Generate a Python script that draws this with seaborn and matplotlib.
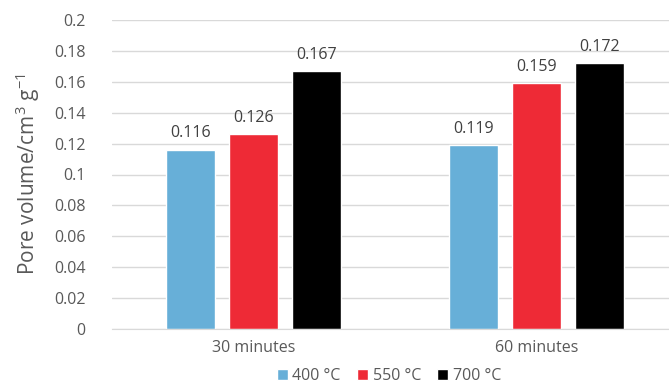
import pandas as pd
import matplotlib
matplotlib.use("Agg")
import matplotlib.pyplot as plt
import seaborn as sns

# data
times = ['30 minutes', '60 minutes']
temps = ['400 °C', '550 °C', '700 °C']
vol_400 = [0.116, 0.119]
vol_550 = [0.126, 0.159]
vol_700 = [0.167, 0.172]
colors = ['#67afd8', '#ee2a36', '#000000']

df = pd.DataFrame({
    'time': times * 3,
    'temp': [temps[0]] * 2 + [temps[1]] * 2 + [temps[2]] * 2,
    'volume': vol_400 + vol_550 + vol_700,
})

sns.set_style('white')
plt.rcParams['font.family'] = ['Open Sans', 'DejaVu Sans']
plt.rcParams['mathtext.fontset'] = 'custom'
plt.rcParams['mathtext.rm'] = 'Open Sans'
plt.rcParams['mathtext.it'] = 'Open Sans'

txt = '#595959'
fig = plt.figure(figsize=(6.69, 3.85), dpi=100)
ax = fig.add_axes([112 / 669, 56 / 385, 566 / 669, 309 / 385])

sns.barplot(data=df, x='time', y='volume', hue='temp', order=times,
            hue_order=temps, palette=colors, width=0.668, gap=0.222,
            saturation=1, ax=ax, legend=True)

for cont in ax.containers:
    ax.bar_label(cont, fmt='%.3f', padding=6, fontsize=11.5, color='#404040')

ax.set_ylim(0, 0.2)
ax.set_xlim(-0.5, 1.5)
ax.set_yticks([i * 0.02 for i in range(11)])
ax.set_yticklabels(['0', '0.02', '0.04', '0.06', '0.08', '0.1', '0.12',
                    '0.14', '0.16', '0.18', '0.2'])
ax.grid(axis='y', color='#d9d9d9', linewidth=1)
ax.set_axisbelow(True)
for s in ['top', 'right', 'left']:
    ax.spines[s].set_visible(False)
ax.spines['bottom'].set_color('#d9d9d9')
ax.tick_params(axis='y', length=0, pad=19, labelsize=11.5, labelcolor=txt)
ax.tick_params(axis='x', length=0, pad=8, labelsize=11.5, labelcolor=txt)
ax.set_xlabel('')
ax.set_ylabel(r'Pore volume/cm$^{3}$ g$^{\mathregular{-1}}$', fontsize=15,
              color=txt, labelpad=9)

ax.legend_.remove()
h, l = ax.get_legend_handles_labels()
fig.legend(h, l, loc='center', bbox_to_anchor=(389 / 669, 1 - 376 / 385),
           ncol=3, frameon=False, fontsize=11.5, labelcolor=txt,
           handlelength=0.7, handleheight=0.7, handletextpad=0.3,
           columnspacing=1.0)

fig.savefig('out.png', dpi=100)
